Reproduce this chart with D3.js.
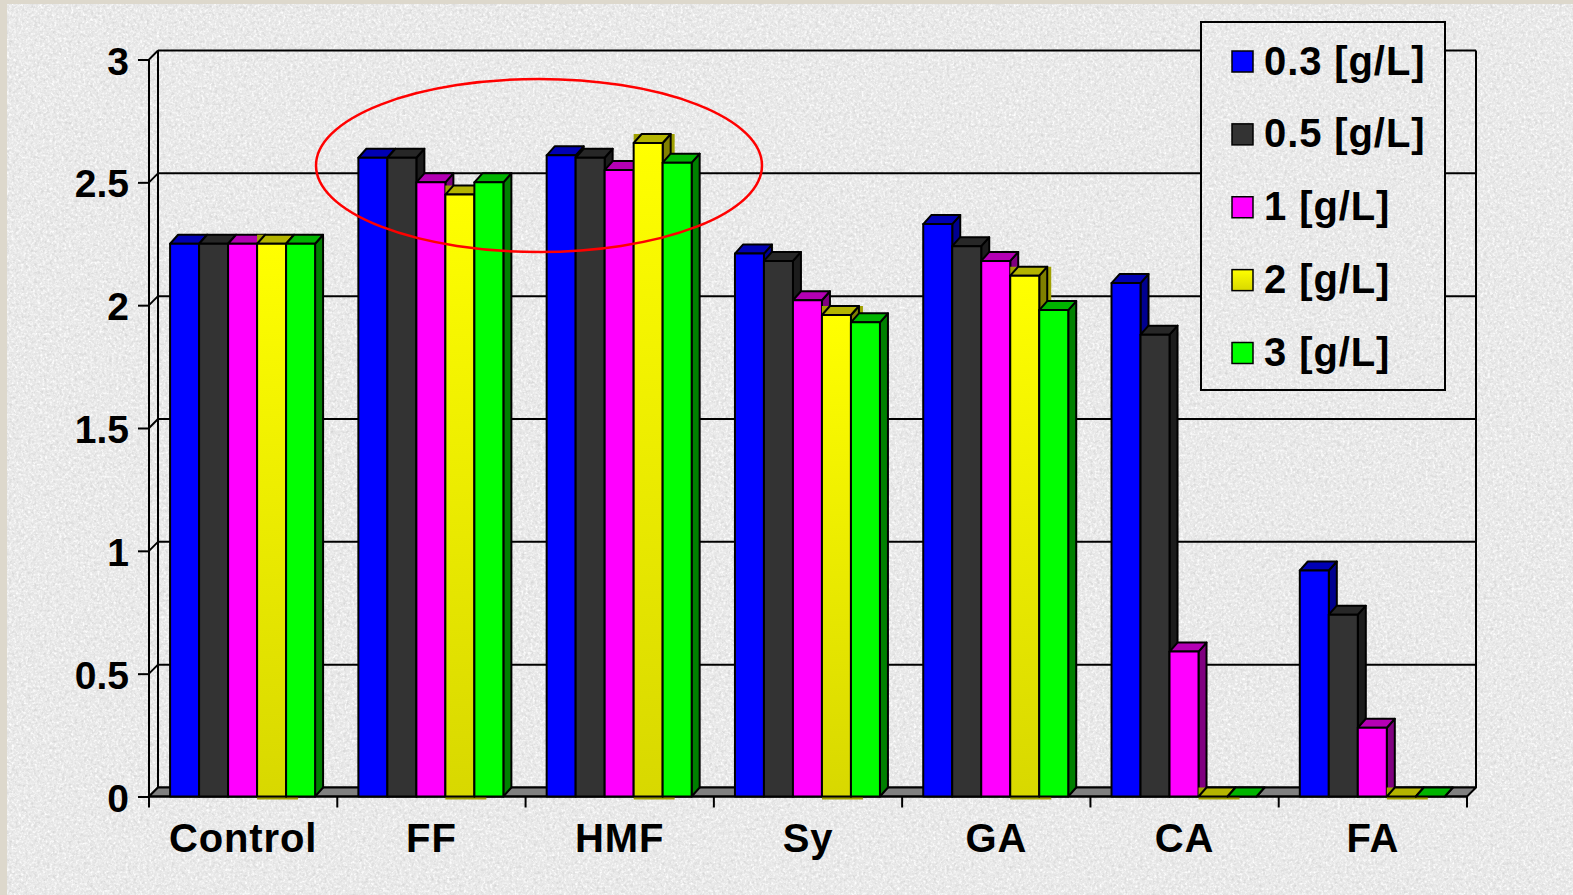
<!DOCTYPE html>
<html>
<head>
<meta charset="utf-8">
<script src="https://cdn.jsdelivr.net/npm/d3@7"></script>
<style>
  html, body { margin: 0; padding: 0; background: #ddd8cc; }
  svg { display: block; }
  text { font-family: "Liberation Sans", Arial, sans-serif; font-weight: bold; fill: #000; }
</style>
</head>
<body>
<svg id="chart" width="1573" height="895"></svg>
<script>
// ---- data ----
const categories = ["Control", "FF", "HMF", "Sy", "GA", "CA", "FA"];
const seriesNames = ["0.3 [g/L]", "0.5 [g/L]", "1 [g/L]", "2 [g/L]", "3 [g/L]"];
const s03 = [2.25, 2.60, 2.61, 2.21, 2.33, 2.09, 0.92];
const s05 = [2.25, 2.60, 2.60, 2.18, 2.24, 1.88, 0.74];
const s1  = [2.25, 2.50, 2.55, 2.02, 2.18, 0.59, 0.28];
const s2  = [2.25, 2.45, 2.66, 1.96, 2.12, 0.00, 0.00];
const s3  = [2.25, 2.50, 2.58, 1.93, 1.98, 0.00, 0.00];
const yTicks = [0, 0.5, 1, 1.5, 2, 2.5, 3];

const seriesValues = [s03, s05, s1, s2, s3];

// face colours per series: front, top, side
const palette = [
  { front: "#0000ff", top: "#0000b4", side: "#000090" },
  { front: "#333333", top: "#272727", side: "#1c1c1c" },
  { front: "#ff00ff", top: "#b400b4", side: "#800080" },
  { front: "url(#yellowGrad)", top: "#b4b400", side: "#808000", backing: "#a0a000" },
  { front: "#00ff00", top: "#00b400", side: "#008000" }
];

const svg = d3.select("#chart");
const W = 1573, H = 895;

// ---- defs: paper texture + yellow shading ----
const defs = svg.append("defs");
const f = defs.append("filter").attr("id", "paper")
  .attr("filterUnits", "userSpaceOnUse")
  .attr("x", 0).attr("y", 0).attr("width", W).attr("height", H);
f.append("feTurbulence").attr("type", "fractalNoise").attr("baseFrequency", 0.32)
  .attr("numOctaves", 3).attr("seed", 7).attr("result", "noise");
f.append("feColorMatrix").attr("in", "noise").attr("type", "matrix")
  .attr("values", "0 0 0 0 0.66  0 0 0 0 0.66  0 0 0 0 0.66  2.2 0 0 0 -1.02")
  .attr("result", "dark");
f.append("feTurbulence").attr("type", "fractalNoise").attr("baseFrequency", 0.42)
  .attr("numOctaves", 2).attr("seed", 19).attr("result", "noise2");
f.append("feColorMatrix").attr("in", "noise2").attr("type", "matrix")
  .attr("values", "0 0 0 0 1  0 0 0 0 1  0 0 0 0 1  2.6 0 0 0 -1.15")
  .attr("result", "light");
f.append("feFlood").attr("flood-color", "#e8e8e8").attr("result", "base");
f.append("feMerge").call(m => {
  m.append("feMergeNode").attr("in", "base");
  m.append("feMergeNode").attr("in", "light");
  m.append("feMergeNode").attr("in", "dark");
});
f.append("feComposite").attr("in2", "SourceGraphic").attr("operator", "in");

const yg = defs.append("linearGradient").attr("id", "yellowGrad")
  .attr("x1", 0).attr("y1", 0).attr("x2", 0).attr("y2", 1);
yg.append("stop").attr("offset", "0%").attr("stop-color", "#ffff00");
yg.append("stop").attr("offset", "100%").attr("stop-color", "#d8d800");

// ---- background ----
svg.append("rect").attr("width", W).attr("height", H).attr("fill", "#ddd8cc");
svg.append("rect").attr("x", 7).attr("y", 4).attr("width", W - 7).attr("height", H - 4)
  .attr("fill", "#fff").attr("filter", "url(#paper)");

// ---- scales ----
const y = d3.scaleLinear().domain([0, 3]).range([796.5, 59.5]);
const x0 = d3.scaleBand().domain(categories).range([149, 1467]).padding(0);
const bw = x0.bandwidth();
const x1 = d3.scaleBand().domain(seriesNames).range([bw * 0.112, bw * 0.112 + 145]).padding(0);

const WDX = 9, WDY = -9;   // wall depth
const BDX = 8, BDY = -9;   // bar depth
const xL = x0.range()[0], xR = x0.range()[1];
const y0 = y(0);

// ---- walls ----
const walls = svg.append("g").attr("fill", "none").attr("stroke", "#000").attr("stroke-width", 2);
// back-wall gridlines and left-wall diagonals
yTicks.forEach(v => {
  walls.append("line").attr("x1", xL + WDX).attr("x2", xR + WDX)
    .attr("y1", y(v) + WDY).attr("y2", y(v) + WDY);
  walls.append("line").attr("x1", xL).attr("x2", xL + WDX)
    .attr("y1", y(v)).attr("y2", y(v) + WDY);
});
walls.append("line").attr("x1", xL + WDX).attr("x2", xL + WDX)
  .attr("y1", y(3) + WDY).attr("y2", y0 + WDY);
walls.append("line").attr("x1", xR + WDX).attr("x2", xR + WDX)
  .attr("y1", y(3) + WDY).attr("y2", y0 + WDY);

// floor
svg.append("path")
  .attr("d", `M${xL},${y0}L${xL + WDX},${y0 + WDY}L${xR + WDX},${y0 + WDY}L${xR},${y0}Z`)
  .attr("fill", "#808080").attr("stroke", "#000").attr("stroke-width", 2)
  .attr("stroke-linejoin", "round");

// front value axis
const yAxis = d3.axisLeft(y).tickValues(yTicks).tickSize(11).tickFormat(d3.format("~g"));
const ya = svg.append("g").attr("transform", `translate(${xL},0)`).call(yAxis);
ya.select(".domain").attr("stroke", "#000").attr("stroke-width", 2)
  .attr("d", `M0,${y(3)}V${y0}`);
ya.selectAll(".tick line").attr("stroke", "#000").attr("stroke-width", 2);
ya.selectAll(".tick text")
  .attr("x", -20).attr("dy", null).attr("y", 14.5)
  .style("font-family", "'Liberation Sans', Arial, sans-serif")
  .style("font-weight", "bold").style("font-size", "39px").attr("fill", "#000");

// front category axis: ticks at category boundaries
const xa = svg.append("g");
xa.append("line").attr("x1", xL).attr("x2", xR).attr("y1", y0).attr("y2", y0)
  .attr("stroke", "#000").attr("stroke-width", 2);
const bounds = categories.map(c => x0(c)).concat([xR]);
xa.selectAll("line.tk").data(bounds).join("line").attr("class", "tk")
  .attr("x1", d => d).attr("x2", d => d).attr("y1", y0).attr("y2", y0 + 11)
  .attr("stroke", "#000").attr("stroke-width", 2);
xa.selectAll("text").data(categories).join("text")
  .attr("x", d => x0(d) + bw / 2).attr("y", 852)
  .attr("text-anchor", "middle").style("font-size", "40px")
  .style("letter-spacing", "0.9px").text(d => d);

// ---- bars ----
const barsG = svg.append("g");
categories.forEach((cat, ci) => {
  seriesNames.forEach((sn, si) => {
    const v = seriesValues[si][ci];
    const col = palette[si];
    const x = x0(cat) + x1(sn);
    const w = x1.bandwidth();
    const yt = y(v);
    const g = barsG.append("g").attr("stroke", "#000").attr("stroke-width", 2)
      .attr("stroke-linejoin", "round");
    if (col.backing) {
      // darker rim behind the yellow columns
      g.append("path")
        .attr("d", `M${x},${y0 + 3}V${yt + BDY}H${x + w + BDX + 4}V${y0 + 3}Z`)
        .attr("fill", col.backing).attr("stroke", "none");
    }
    // side face
    g.append("path")
      .attr("d", `M${x + w},${yt}L${x + w + BDX},${yt + BDY}L${x + w + BDX},${y0 + BDY}L${x + w},${y0}Z`)
      .attr("fill", col.side);
    // top face
    g.append("path")
      .attr("d", `M${x},${yt}L${x + BDX},${yt + BDY}L${x + w + BDX},${yt + BDY}L${x + w},${yt}Z`)
      .attr("fill", col.top);
    // front face
    g.append("rect").attr("x", x).attr("y", yt).attr("width", w).attr("height", y0 - yt)
      .attr("fill", col.front);
  });
});

// ---- highlight ellipse ----
svg.append("ellipse").attr("cx", 539).attr("cy", 165.5).attr("rx", 223).attr("ry", 86.5)
  .attr("fill", "none").attr("stroke", "#ff0000").attr("stroke-width", 2.5);

// ---- legend ----
const lg = svg.append("g");
lg.append("rect").attr("x", 1201).attr("y", 22).attr("width", 244).attr("height", 368)
  .attr("fill", "#fff").attr("filter", "url(#paper)");
lg.append("rect").attr("x", 1201).attr("y", 22).attr("width", 244).attr("height", 368)
  .attr("fill", "none").attr("stroke", "#000").attr("stroke-width", 2);
const ly = d3.scalePoint().domain(seriesNames).range([61.5, 353]);
seriesNames.forEach((sn, si) => {
  lg.append("rect").attr("x", 1232).attr("y", ly(sn) - 10.5).attr("width", 21).attr("height", 21)
    .attr("fill", palette[si].front).attr("stroke", "#000").attr("stroke-width", 1.5);
  lg.append("text").attr("x", 1264).attr("y", ly(sn) + 13)
    .style("font-size", "40px").style("letter-spacing", "0.9px").text(sn);
});
</script>
</body>
</html>
